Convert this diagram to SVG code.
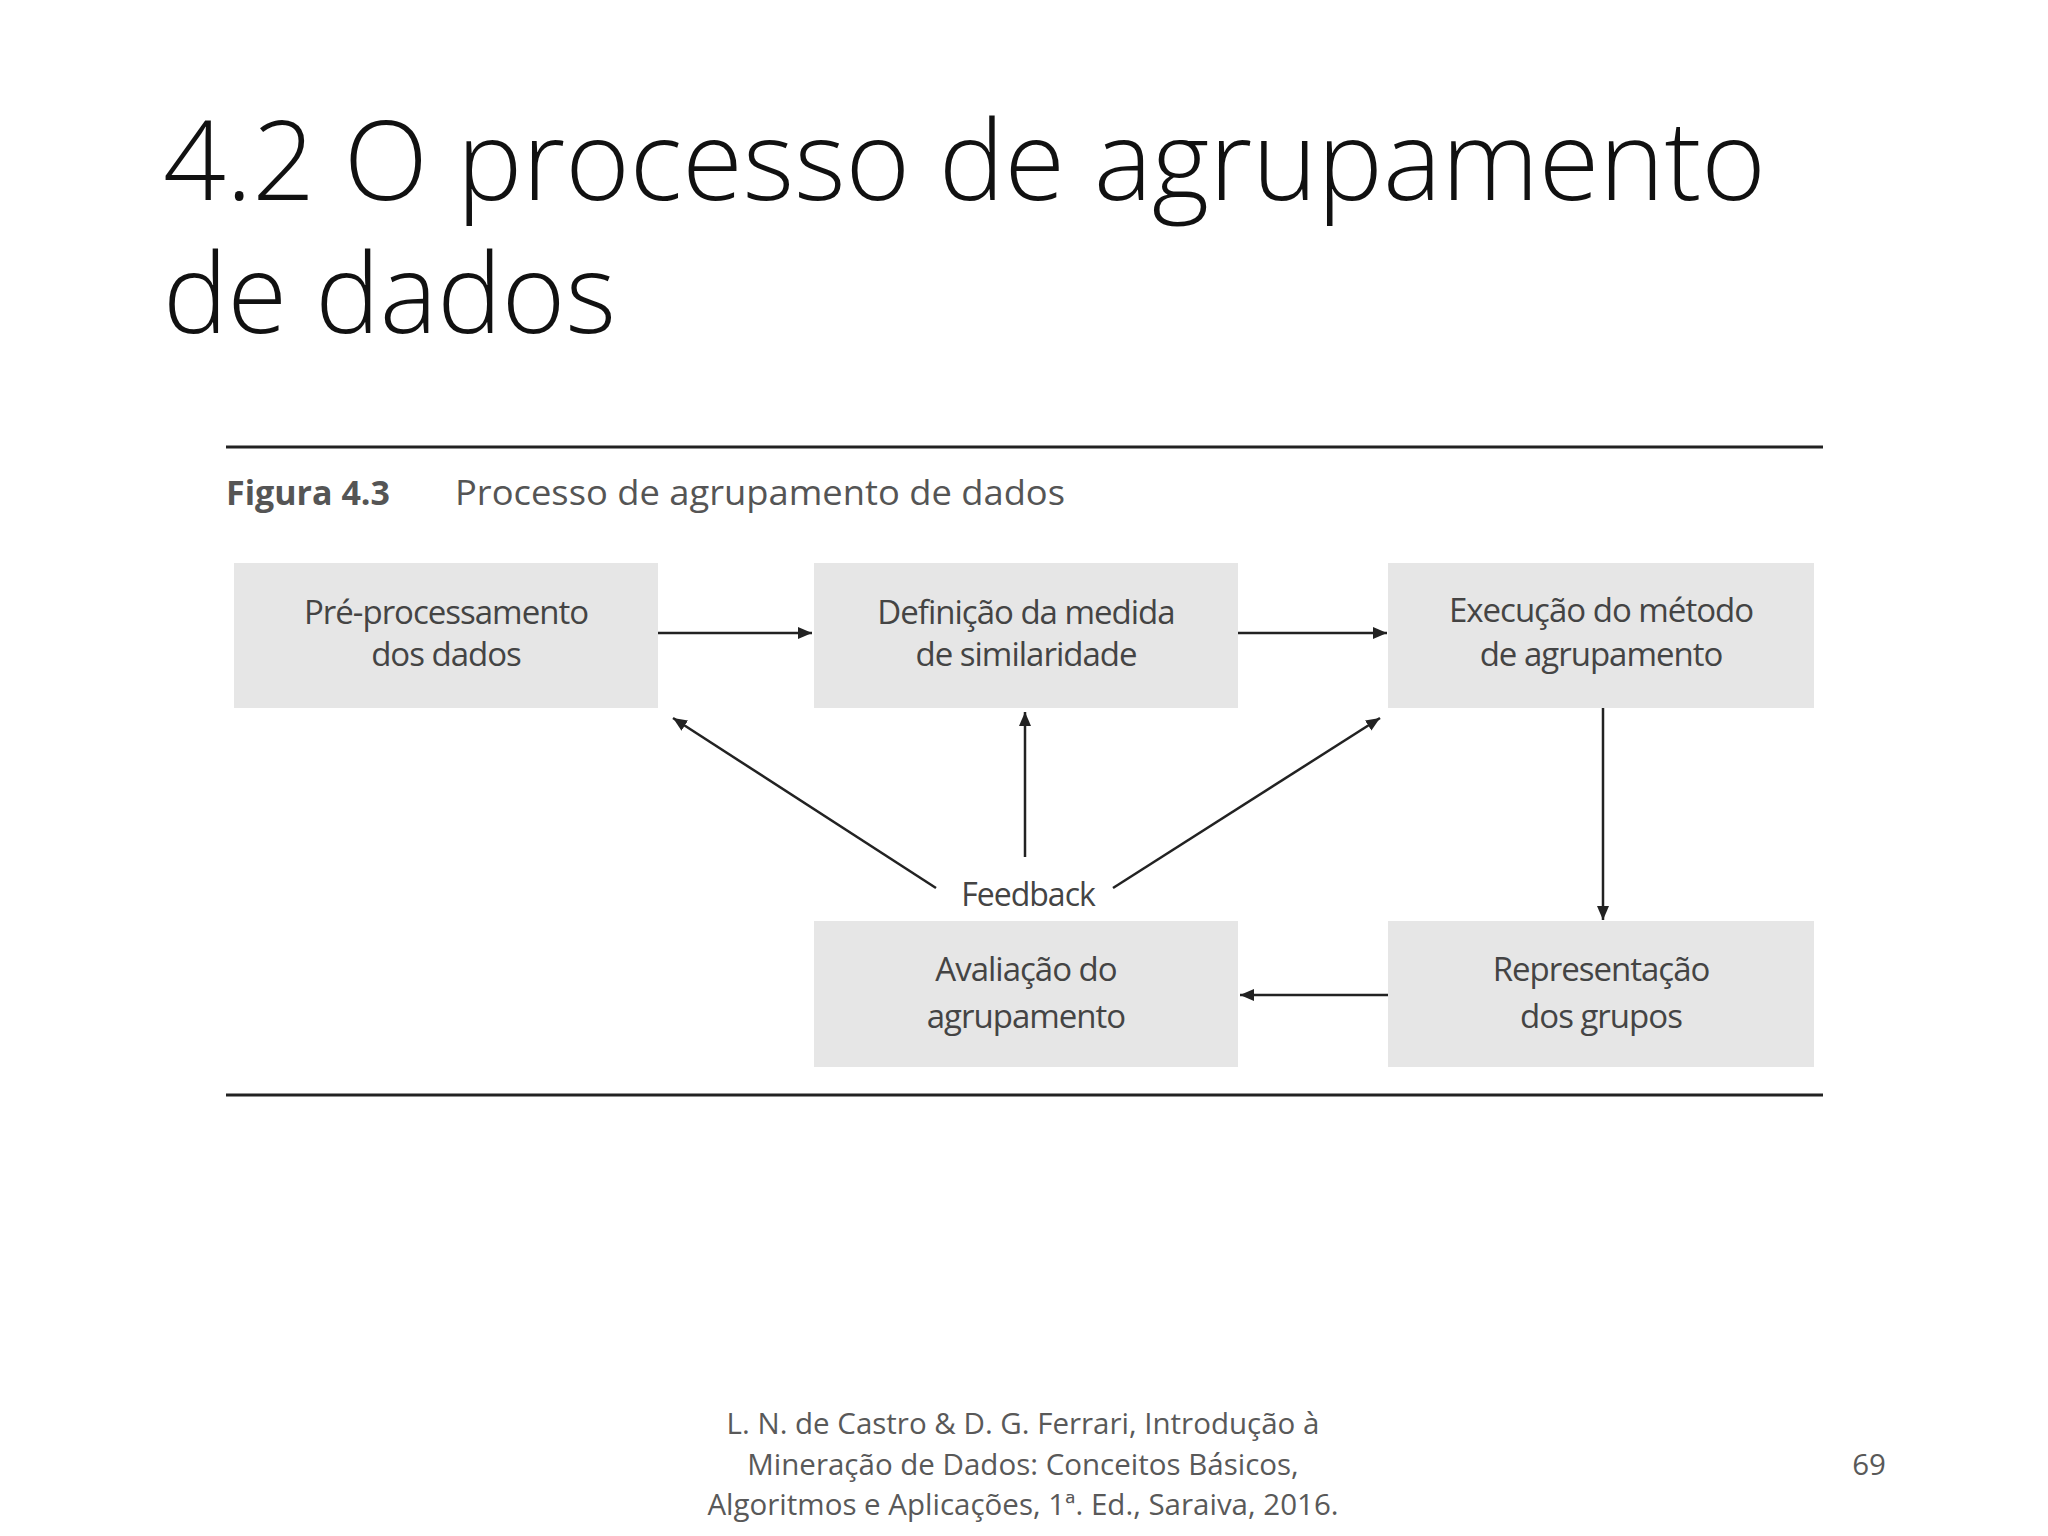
<svg xmlns="http://www.w3.org/2000/svg" width="2048" height="1536" viewBox="0 0 2048 1536">
<defs>
<marker id="ah" viewBox="0 0 14 12" refX="14" refY="6" markerWidth="14" markerHeight="12" markerUnits="userSpaceOnUse" orient="auto"><path d="M0,0 L14,6 L0,12 z" fill="#222"/></marker>
<style>
.t{font-family:"Open Sans",sans-serif;font-weight:300;font-size:110px;fill:#111}
.cap{font-family:"Open Sans",sans-serif;font-size:34px;fill:#555}
.box{fill:#e6e6e6}
.bt{font-family:"Open Sans",sans-serif;font-size:33px;fill:#444;text-anchor:middle;letter-spacing:-1px}
.c{stroke:#222;stroke-width:2.5;fill:none;marker-end:url(#ah)}
.f{font-family:"Open Sans",sans-serif;font-size:29.5px;fill:#595959;text-anchor:middle}
</style>
</defs>
<rect width="2048" height="1536" fill="#fff"/>
<text class="t" x="163" y="200" textLength="1603" lengthAdjust="spacingAndGlyphs">4.2 O processo de agrupamento</text>
<text class="t" x="163" y="333" textLength="453" lengthAdjust="spacingAndGlyphs">de dados</text>
<line x1="226" y1="447" x2="1823" y2="447" stroke="#222" stroke-width="3"/>
<line x1="226" y1="1095" x2="1823" y2="1095" stroke="#222" stroke-width="3"/>
<text class="cap" x="226" y="505" font-weight="bold" fill="#777">Figura 4.3</text>
<text class="cap" x="455" y="505" textLength="610" lengthAdjust="spacingAndGlyphs">Processo de agrupamento de dados</text>
<g id="n1"><rect class="box" x="234" y="563" width="424" height="145"/><text class="bt" x="446" y="624">Pré-processamento</text><text class="bt" x="446" y="666">dos dados</text></g>
<g id="n2"><rect class="box" x="814" y="563" width="424" height="145"/><text class="bt" x="1026" y="624">Definição da medida</text><text class="bt" x="1026" y="666">de similaridade</text></g>
<g id="n3"><rect class="box" x="1388" y="563" width="426" height="145"/><text class="bt" x="1601" y="622">Execução do método</text><text class="bt" x="1601" y="666">de agrupamento</text></g>
<g id="n4"><rect class="box" x="814" y="921" width="424" height="146"/><text class="bt" x="1026" y="981">Avaliação do</text><text class="bt" x="1026" y="1028">agrupamento</text></g>
<g id="n5"><rect class="box" x="1388" y="921" width="426" height="146"/><text class="bt" x="1601" y="981">Representação</text><text class="bt" x="1601" y="1028">dos grupos</text></g>
<g id="fb"><text class="bt" x="1028" y="906" style="font-size:32px">Feedback</text></g>
<g id="connectors">
<line class="c" x1="658" y1="633" x2="812" y2="633"/>
<line class="c" x1="1238" y1="633" x2="1387" y2="633"/>
<line class="c" x1="1603" y1="708" x2="1603" y2="920"/>
<line class="c" x1="1388" y1="995" x2="1240" y2="995"/>
<line class="c" x1="1025" y1="857" x2="1025" y2="712"/>
<line class="c" x1="936" y1="888" x2="673" y2="718"/>
<line class="c" x1="1113" y1="888" x2="1380" y2="718"/>
</g>
<text class="f" x="1023" y="1434">L. N. de Castro &amp; D. G. Ferrari, Introdução à</text>
<text class="f" x="1023" y="1475">Mineração de Dados: Conceitos Básicos,</text>
<text class="f" x="1023" y="1515">Algoritmos e Aplicações, 1ª. Ed., Saraiva, 2016.</text>
<text class="f" x="1869" y="1475">69</text>
</svg>
